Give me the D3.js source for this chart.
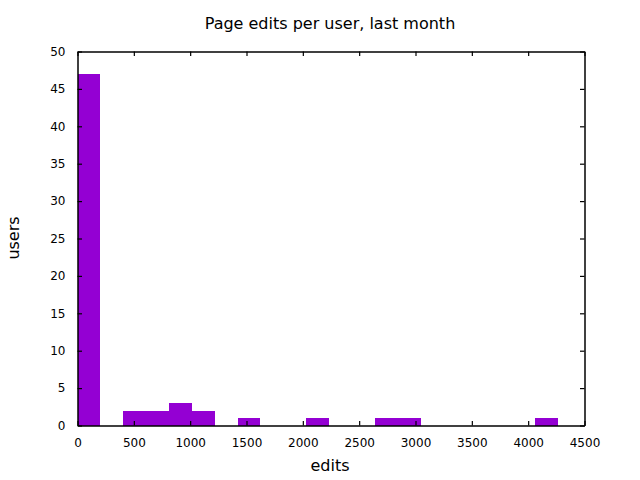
<!DOCTYPE html>
<html><head><meta charset="utf-8">
<script src="https://cdn.jsdelivr.net/npm/d3@7"></script>
<style>body{margin:0;background:#fff}text{font-family:"DejaVu Sans",sans-serif;fill:#000}</style>
</head><body>
<svg id="c" width="640" height="480"></svg>
<script>
// Histogram bins (edits), bin width ~203
const binStarts = [0, 406, 609, 812, 1015, 1421, 2030, 2639, 2842, 4060];
const binCounts = [47, 2, 2, 3, 2, 1, 1, 1, 1, 1];
const binWidth = 203;
const xTicks = [0, 500, 1000, 1500, 2000, 2500, 3000, 3500, 4000, 4500];
const yTicks = [0, 5, 10, 15, 20, 25, 30, 35, 40, 45, 50];

const svg = d3.select("#c");
const L = 77.5, R = 584.5, T = 51.5, B = 425.5;
const x = d3.scaleLinear().domain([0, 4500]).range([L, R]);
const y = d3.scaleLinear().domain([0, 50]).range([B, T]);

svg.append("rect").attr("width",640).attr("height",480).attr("fill","#fff");

svg.selectAll("rect.bar").data(binStarts).enter().append("rect")
  .attr("class","bar")
  .attr("x", d => x(d))
  .attr("width", d => x(d + binWidth) - x(d))
  .attr("y", (d,i) => y(binCounts[i]))
  .attr("height", (d,i) => y(0) - y(binCounts[i]))
  .attr("fill", "#9400d3")
  .attr("shape-rendering","crispEdges");

const tl = 4.5;
const fmt = d3.format("d");
const gB = svg.append("g").attr("transform",`translate(0,${B})`)
  .call(d3.axisBottom(x).tickValues(xTicks).tickFormat(fmt).tickSizeInner(-tl).tickSizeOuter(0).tickPadding(12.5));
const gT = svg.append("g").attr("transform",`translate(0,${T})`)
  .call(d3.axisTop(x).tickValues(xTicks).tickSizeInner(-tl).tickSizeOuter(0).tickFormat(""));
const gL = svg.append("g").attr("transform",`translate(${L},0)`)
  .call(d3.axisLeft(y).tickValues(yTicks).tickFormat(fmt).tickSizeInner(-tl).tickSizeOuter(0).tickPadding(12));
const gR = svg.append("g").attr("transform",`translate(${R},0)`)
  .call(d3.axisRight(y).tickValues(yTicks).tickSizeInner(-tl).tickSizeOuter(0).tickFormat(""));
[gB,gT,gL,gR].forEach(g => {
  g.selectAll("path.domain").attr("stroke","#000").attr("stroke-width",1.5);
  g.selectAll(".tick line").attr("stroke","#000").attr("stroke-width",1.2);
  g.selectAll(".tick text").attr("font-size",12).attr("font-family","DejaVu Sans, sans-serif").attr("fill","#000");
});

svg.append("text").attr("x",330).attr("y",29).attr("text-anchor","middle")
  .attr("font-size",16).text("Page edits per user, last month");
svg.append("text").attr("x",330).attr("y",471).attr("text-anchor","middle")
  .attr("font-size",16).text("edits");
svg.append("text").attr("transform","translate(19,238) rotate(-90)").attr("text-anchor","middle")
  .attr("font-size",16).text("users");
</script>
</body></html>
